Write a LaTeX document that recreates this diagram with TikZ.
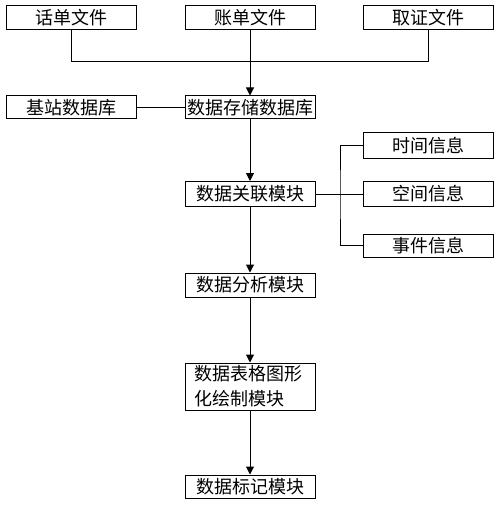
\documentclass[tikz,border=0pt]{standalone}
\usepackage{fontspec}
\setmainfont{Noto Sans CJK SC}
\usetikzlibrary{arrows.meta}
\begin{document}
\begin{tikzpicture}[x=1pt,y=-1pt,
  box/.style={draw,line width=1pt,minimum width=130pt,minimum height=24pt,inner sep=0pt,
    font=\fontsize{18}{25}\selectfont},
  line/.style={line width=1pt},
  arr/.style={line width=1pt,-{Triangle[length=8pt,width=8pt]}}]
\useasboundingbox (0,0) rectangle (500,505);
\node[box] (a1) at (71.5,17.5) {话单文件};
\node[box] (a2) at (250,17.5) {账单文件};
\node[box] (a3) at (428.5,17.5) {取证文件};
\node[box,minimum height=23pt] (jz) at (71.5,107.5) {基站数据库};
\node[box,minimum height=23pt] (db) at (250,107.5) {数据存储数据库};
\node[box,minimum height=25pt] (gl) at (250,194) {数据关联模块};
\node[box,minimum height=25pt] (t1) at (428,145.5) {时间信息};
\node[box,minimum height=25pt] (t2) at (428,194) {空间信息};
\node[box,minimum height=23pt] (t3) at (428,245.5) {事件信息};
\node[box] (fx) at (250,285) {数据分析模块};
\node[box,minimum height=47pt,text width=112pt,align=left] (tb) at (250,386.5) {数据表格图形\\化绘制模块};
\node[box,minimum height=23pt] (bj) at (250,486.5) {数据标记模块};
\coordinate (m) at (250,62);
\coordinate (b) at (340,194);
\draw[line] (a1.south) |- (m);
\draw[line] (a3.south) |- (m);
\draw[arr] (a2.south) -- (db.north);
\draw[line] (jz.east) -- (db.west);
\draw[arr] (db.south) -- (gl.north);
\draw[line] (gl.east) -- (t2.west);
\draw[line] (t1.west) -| (b) |- (t3.west);
\draw[arr] (gl.south) -- (fx.north);
\draw[arr] (fx.south) -- (tb.north);
\draw[arr] (tb.south) -- (bj.north);
\end{tikzpicture}
\end{document}
